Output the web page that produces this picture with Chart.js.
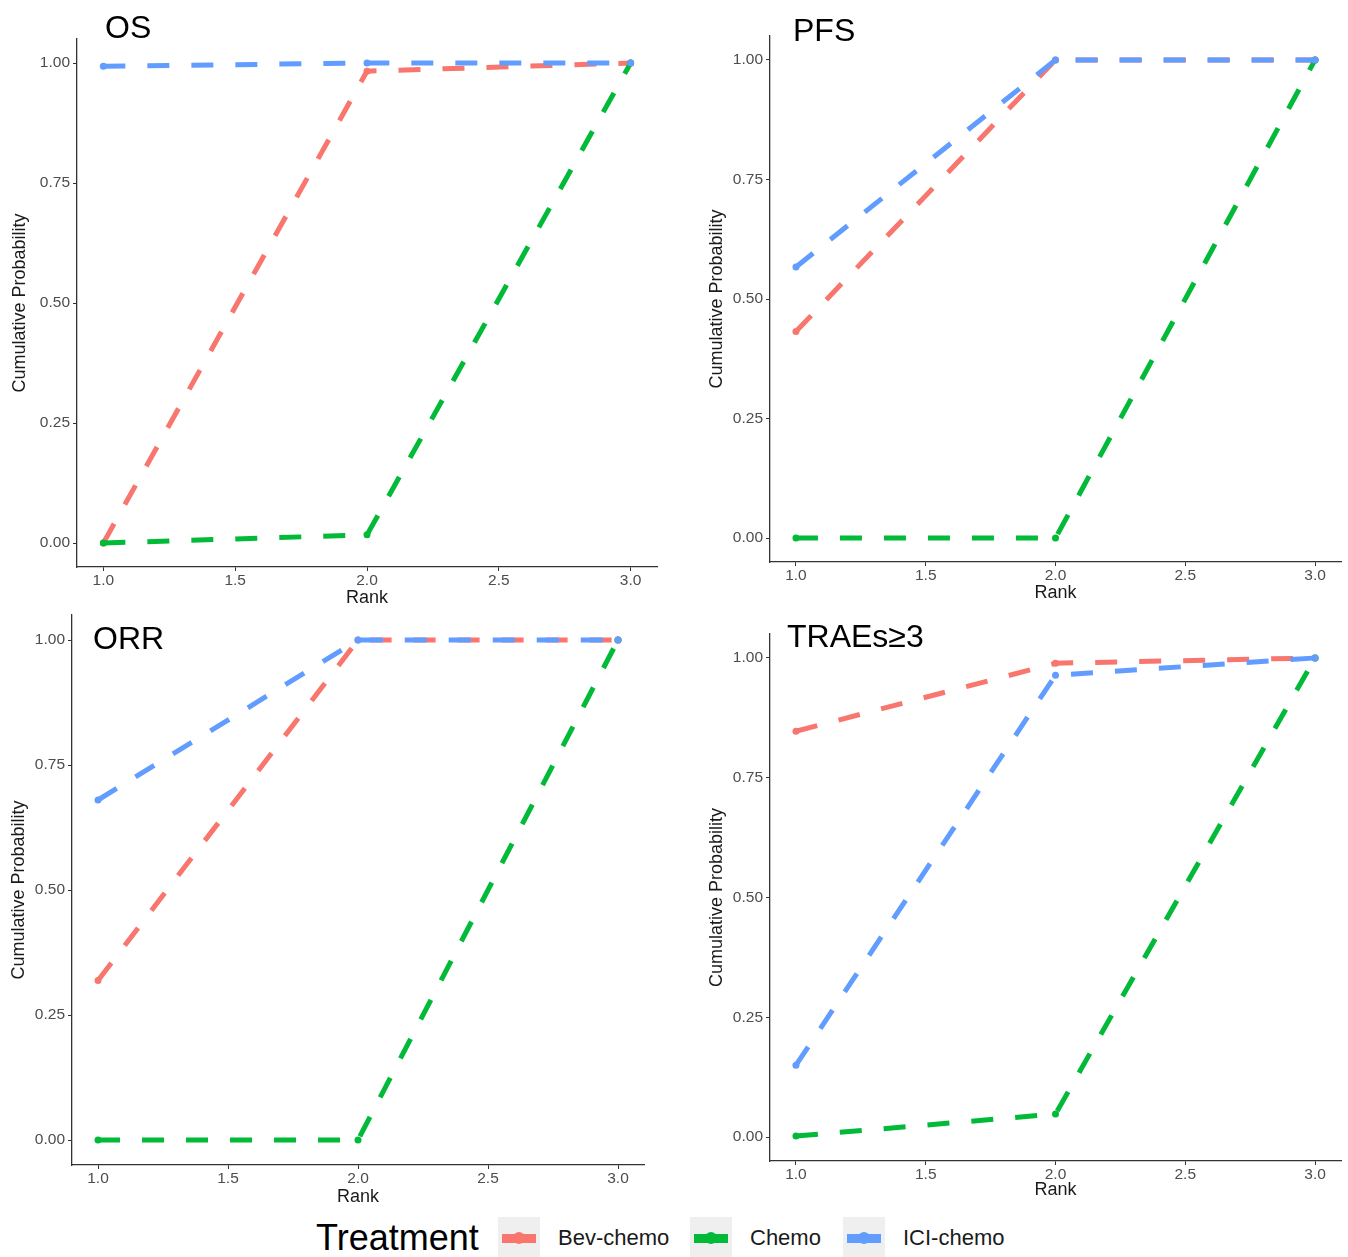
<!DOCTYPE html>
<html>
<head>
<meta charset="utf-8">
<script src="https://cdn.jsdelivr.net/npm/chart.js@4.4.1/dist/chart.umd.min.js"></script>
<style>
  body { margin: 0; background: #fff; font-family: "Liberation Sans", Arial, sans-serif; }
  #page { position: relative; width: 1348px; height: 1257px; overflow: hidden; background: #fff; }
  .panel { position: absolute; }
  .panel-title { position: absolute; font-size: 32px; line-height: 32px; color: #000; white-space: nowrap; }
  .legend-title { position: absolute; left: 316px; top: 1218px; font-size: 36px; line-height: 40px; color: #000; }
  .key { position: absolute; top: 1217px; width: 42px; height: 42px; background: #efefef; }
  .key .bar { position: absolute; left: 4px; right: 4px; top: 17px; height: 9px; }
  .key .dot { position: absolute; left: 15px; top: 15px; width: 12px; height: 12px; border-radius: 6px; }
  .key-label { position: absolute; top: 1226px; font-size: 22px; line-height: 24px; color: #1a1a1a; white-space: nowrap; }
</style>
</head>
<body>
<div id="page"></div>
<script>
const ranks = [1, 2, 3];
const treatments = ["Bev-chemo", "Chemo", "ICI-chemo"];
const colors = ["#F8766D", "#00BA38", "#619CFF"];
const xTicks = [1.0, 1.5, 2.0, 2.5, 3.0];
const yTicks = [0, 0.25, 0.5, 0.75, 1.0];

// cumulative probability per rank
const osBev = [0, 0.983, 1.0];
const osChemo = [0, 0.017, 1.0];
const osIci = [0.993, 1.0, 1.0];

const pfsBev = [0.432, 1.0, 1.0];
const pfsChemo = [0, 0, 1.0];
const pfsIci = [0.567, 1.0, 1.0];

const orrBev = [0.319, 1.0, 1.0];
const orrChemo = [0, 0, 1.0];
const orrIci = [0.68, 1.0, 1.0];

const traeBev = [0.847, 0.989, 1.0];
const traeChemo = [0.002, 0.048, 1.0];
const traeIci = [0.15, 0.964, 1.0];

const fontFamily = '"Liberation Sans", Arial, sans-serif';
const page = document.getElementById("page");

// layout of the four panels
const panels = [
  { title: "OS", series: [osBev, osChemo, osIci], left: 0, top: 0, width: 680, height: 610,
    padTop: 39, padRight: 23, yWidth: 77, xHeight: 43, yTitlePad: 9, xTitlePad: 1, titleX: 105, titleY: 11 },
  { title: "PFS", series: [pfsBev, pfsChemo, pfsIci], left: 680, top: 0, width: 668, height: 610,
    padTop: 36, padRight: 7, yWidth: 90, xHeight: 48, yTitlePad: 26, xTitlePad: 6, titleX: 793, titleY: 14 },
  { title: "ORR", series: [orrBev, orrChemo, orrIci], left: 0, top: 610, width: 680, height: 600,
    padTop: 5, padRight: 36, yWidth: 72, xHeight: 45, yTitlePad: 8, xTitlePad: 2, titleX: 93, titleY: 622 },
  { title: "TRAEs≥3", series: [traeBev, traeChemo, traeIci], left: 680, top: 610, width: 668, height: 600,
    padTop: 24, padRight: 7, yWidth: 90, xHeight: 49, yTitlePad: 26, xTitlePad: 9, titleX: 787, titleY: 620 },
];

const axisStyle = {
  grid: { drawOnChartArea: false, drawTicks: true, tickLength: 4, color: "#333333", lineWidth: 1 },
  border: { display: true, color: "#333333", width: 1.3 },
};

panels.forEach((p) => {
  const canvas = document.createElement("canvas");
  canvas.className = "panel";
  canvas.width = p.width;
  canvas.height = p.height;
  canvas.style.left = p.left + "px";
  canvas.style.top = p.top + "px";
  canvas.style.width = p.width + "px";
  canvas.style.height = p.height + "px";
  page.appendChild(canvas);

  new Chart(canvas, {
    type: "line",
    data: {
      datasets: treatments.map((name, i) => ({
        label: name,
        data: ranks.map((r, j) => ({ x: r, y: p.series[i][j] })),
        borderColor: colors[i],
        backgroundColor: colors[i],
        borderWidth: 5,
        borderDash: [22, 22],
        borderCapStyle: "butt",
        pointRadius: 3.5,
        pointBorderWidth: 0,
        pointHoverRadius: 3.5,
        tension: 0,
        order: 2 - i,
        clip: false,
      })),
    },
    options: {
      responsive: false,
      animation: false,
      events: [],
      layout: { padding: { left: 0, top: p.padTop, right: p.padRight, bottom: 0 } },
      plugins: { legend: { display: false }, tooltip: { enabled: false } },
      scales: {
        x: {
          type: "linear",
          min: 0.9,
          max: 3.1,
          afterBuildTicks: (axis) => { axis.ticks = xTicks.map((v) => ({ value: v })); },
          afterFit: (scale) => {
            scale.height = p.xHeight;
            scale.paddingLeft = 0;
            scale.paddingRight = 0;
          },
          ...axisStyle,
          ticks: {
            color: "#4D4D4D",
            font: { size: 15.5, family: fontFamily },
            padding: 0,
            maxRotation: 0,
            autoSkip: false,
            callback: (v) => Number(v).toFixed(1),
          },
          title: {
            display: true,
            text: "Rank",
            color: "#1A1A1A",
            font: { size: 18, family: fontFamily },
            padding: { top: 0, bottom: p.xTitlePad },
          },
        },
        y: {
          type: "linear",
          min: -0.05,
          max: 1.05,
          afterBuildTicks: (axis) => { axis.ticks = yTicks.map((v) => ({ value: v })); },
          afterFit: (scale) => {
            scale.width = p.yWidth;
            scale.paddingTop = 0;
            scale.paddingBottom = 0;
          },
          ...axisStyle,
          ticks: {
            color: "#4D4D4D",
            font: { size: 15.5, family: fontFamily },
            padding: 3,
            callback: (v) => Number(v).toFixed(2),
          },
          title: {
            display: true,
            text: "Cumulative Probability",
            color: "#1A1A1A",
            font: { size: 18, family: fontFamily },
            padding: { top: p.yTitlePad, bottom: 0 },
          },
        },
      },
    },
  });

  const t = document.createElement("div");
  t.className = "panel-title";
  t.textContent = p.title;
  t.style.left = p.titleX + "px";
  t.style.top = p.titleY + "px";
  page.appendChild(t);
});

// shared legend at the bottom
const legendTitle = document.createElement("div");
legendTitle.className = "legend-title";
legendTitle.textContent = "Treatment";
page.appendChild(legendTitle);

const keyLefts = [498, 690, 843];
const labelLefts = [558, 750, 903];
treatments.forEach((name, i) => {
  const key = document.createElement("div");
  key.className = "key";
  key.style.left = keyLefts[i] + "px";
  key.innerHTML = '<div class="bar"></div><div class="dot"></div>';
  key.querySelector(".bar").style.background = colors[i];
  key.querySelector(".dot").style.background = colors[i];
  page.appendChild(key);

  const label = document.createElement("div");
  label.className = "key-label";
  label.textContent = name;
  label.style.left = labelLefts[i] + "px";
  page.appendChild(label);
});
</script>
</body>
</html>
